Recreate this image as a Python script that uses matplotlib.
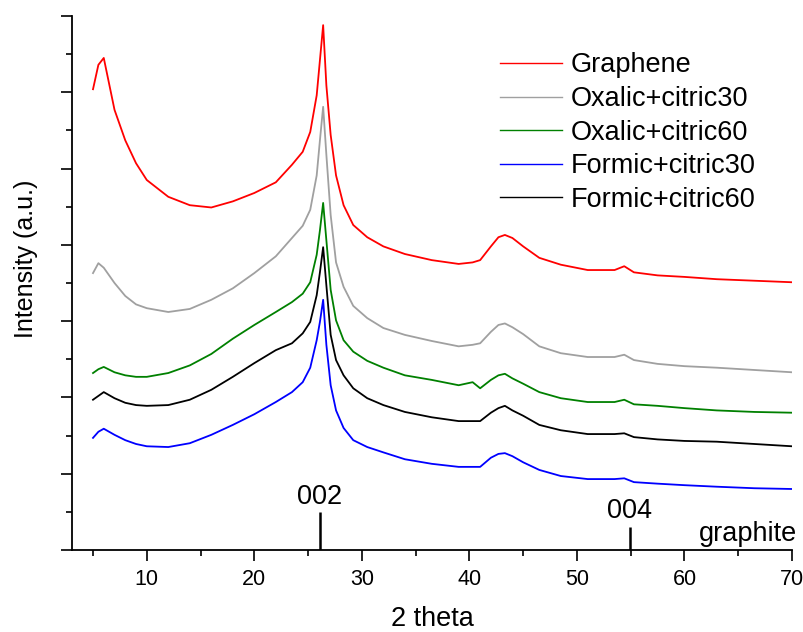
import numpy as np
import matplotlib
matplotlib.use("Agg")
import matplotlib.pyplot as plt
from matplotlib.ticker import MultipleLocator, NullFormatter

plt.rcParams['font.family'] = ['Liberation Sans', 'DejaVu Sans']

# 2 theta positions the curves were read at
two_theta = [5, 5.5, 6, 7, 8, 9, 10, 12, 14, 16, 18, 20, 22, 23.5, 24.5, 25.2,
             25.8, 26.1, 26.4, 26.7, 27.1, 27.6, 28.3, 29.2, 30.5, 32, 34, 36.5,
             39, 40.3, 41, 42, 42.7, 43.3, 44, 45, 46.5, 48.5, 51, 53.5, 54.4,
             55.3, 57.5, 60, 63, 66.5, 70]

# intensities (a.u., stacked as in the original figure)
graphene = [6.04, 6.36, 6.45, 5.77, 5.37, 5.07, 4.85, 4.63, 4.52, 4.49, 4.57,
            4.68, 4.82, 5.05, 5.22, 5.48, 5.96, 6.42, 6.88, 6.09, 5.44, 4.91,
            4.52, 4.26, 4.10, 3.98, 3.88, 3.80, 3.75, 3.77, 3.80, 3.98, 4.10,
            4.13, 4.09, 3.98, 3.83, 3.74, 3.67, 3.67, 3.72, 3.64, 3.60, 3.58,
            3.55, 3.53, 3.51]
oxalic30 = [3.63, 3.76, 3.70, 3.50, 3.33, 3.22, 3.17, 3.12, 3.16, 3.28, 3.43,
            3.63, 3.85, 4.09, 4.25, 4.46, 4.91, 5.37, 5.81, 5.18, 4.39, 3.77,
            3.45, 3.20, 3.04, 2.91, 2.82, 2.74, 2.67, 2.69, 2.71, 2.86, 2.95,
            2.97, 2.92, 2.83, 2.67, 2.58, 2.53, 2.53, 2.56, 2.49, 2.44, 2.41,
            2.39, 2.36, 2.33]
oxalic60 = [2.32, 2.37, 2.40, 2.33, 2.29, 2.27, 2.27, 2.32, 2.42, 2.57, 2.77,
            2.95, 3.12, 3.25, 3.36, 3.51, 3.87, 4.19, 4.55, 4.06, 3.41, 3.01,
            2.75, 2.60, 2.48, 2.39, 2.29, 2.23, 2.16, 2.20, 2.12, 2.23, 2.29,
            2.31, 2.25, 2.18, 2.07, 1.99, 1.94, 1.94, 1.97, 1.91, 1.89, 1.86,
            1.83, 1.81, 1.80]
formic30 = [1.47, 1.55, 1.59, 1.51, 1.44, 1.39, 1.36, 1.35, 1.40, 1.51, 1.64,
            1.78, 1.94, 2.07, 2.20, 2.39, 2.75, 2.99, 3.28, 2.69, 2.16, 1.83,
            1.60, 1.44, 1.35, 1.28, 1.19, 1.13, 1.09, 1.09, 1.09, 1.21, 1.26,
            1.27, 1.23, 1.15, 1.05, 0.97, 0.93, 0.93, 0.94, 0.89, 0.87, 0.85,
            0.83, 0.81, 0.80]
formic60 = [1.97, 2.02, 2.07, 1.99, 1.93, 1.90, 1.89, 1.90, 1.97, 2.10, 2.27,
            2.45, 2.62, 2.71, 2.84, 2.99, 3.34, 3.64, 3.97, 3.47, 2.82, 2.49,
            2.29, 2.12, 1.99, 1.90, 1.81, 1.74, 1.69, 1.69, 1.69, 1.80, 1.86,
            1.89, 1.83, 1.76, 1.64, 1.57, 1.52, 1.52, 1.53, 1.48, 1.45, 1.43,
            1.42, 1.39, 1.36]

# graphite reference reflections
ref_pos = [26.1, 54.9]
ref_height = [0.50, 0.30]
ref_label = ['002', '004']
ref_text_y = [0.60, 0.42]

fig = plt.figure(figsize=(8.04, 6.32), dpi=100)
ax = fig.add_axes([0.0896, 0.1297, 0.8955, 0.845])

ax.plot(two_theta, graphene, color='#ff0000', lw=1.3, label='Graphene')
ax.plot(two_theta, oxalic30, color='#a0a0a0', lw=1.3, label='Oxalic+citric30')
ax.plot(two_theta, oxalic60, color='#008000', lw=1.3, label='Oxalic+citric60')
ax.plot(two_theta, formic30, color='#0000ff', lw=1.3, label='Formic+citric30')
ax.plot(two_theta, formic60, color='#000000', lw=1.3, label='Formic+citric60')

ax.vlines(ref_pos, 0, ref_height, color='black', lw=1.8)
for p, t, ty in zip(ref_pos, ref_label, ref_text_y):
    ax.text(p, ty, t, ha='center', va='baseline', fontsize=19.5)
ax.text(70.5, 0.12, 'graphite', ha='right', va='baseline', fontsize=19.5)

ax.set_xlim(3.05, 70)
ax.set_ylim(0, 7)
ax.xaxis.set_major_locator(MultipleLocator(10))
ax.xaxis.set_minor_locator(MultipleLocator(5))
ax.yaxis.set_major_locator(MultipleLocator(1))
ax.yaxis.set_minor_locator(MultipleLocator(0.5))
ax.yaxis.set_major_formatter(NullFormatter())
ax.tick_params(which='major', direction='out', length=8, width=1.2,
               labelsize=15.5, pad=6)
ax.tick_params(which='minor', direction='out', length=4.3, width=1.2)
for s in ['top', 'right']:
    ax.spines[s].set_visible(False)
for s in ['left', 'bottom']:
    ax.spines[s].set_linewidth(1.3)

ax.set_xlabel('2 theta', fontsize=19.5, labelpad=11)
ax.set_ylabel('Intensity (a.u.)', fontsize=18)
ax.yaxis.set_label_coords(-0.047, 0.545)

leg = ax.legend(loc='upper left', bbox_to_anchor=(0.622, 0.917),
                bbox_transform=fig.transFigure, frameon=False, fontsize=19.5,
                handlelength=2.3, handletextpad=0.3, labelspacing=0.28,
                borderpad=0, borderaxespad=0)
for h in leg.get_lines():
    h.set_linewidth(1.0)

fig.savefig('out.png', dpi=100)
